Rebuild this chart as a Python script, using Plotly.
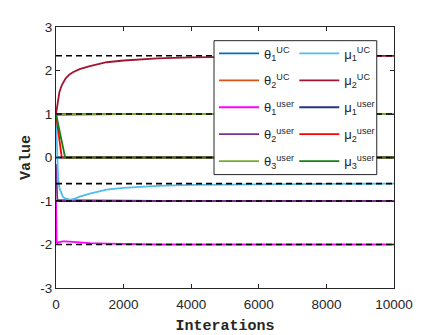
import plotly.graph_objects as go

iterations = [0, 20, 40, 60, 100, 170, 200, 270, 300, 400, 500, 700, 1000, 1500,
              2000, 2500, 3000, 4000, 5000, 6000, 7000, 8000, 9000, 10000]

theta1_uc = [0.0] * 24
theta2_uc = [1.0] * 24
theta1_user = [-1.0, -1.97, -1.96, -1.95, -1.94, -1.93, -1.93, -1.93, -1.93, -1.94, -1.94, -1.95,
               -1.97, -1.98, -1.99, -1.99, -2.0, -2.0, -2.0, -2.0, -2.0, -2.0, -2.0, -2.0]
theta2_user = [-0.15, -0.95, -0.97, -0.975, -0.98, -0.98, -0.98, -0.98, -0.98, -0.98, -0.98, -0.98,
               -0.98, -0.985, -0.99, -0.99, -0.995, -1.0, -1.0, -1.0, -1.0, -1.0, -1.0, -1.0]
theta3_user = [1.0, 0.975, 0.975, 0.975, 0.975, 0.975, 0.975, 0.976, 0.976, 0.977, 0.978, 0.98,
               0.985, 0.99, 0.995, 0.997, 1.0, 1.0, 1.0, 1.0, 1.0, 1.0, 1.0, 1.0]
mu1_uc = [1.0, 0.35, -0.15, -0.45, -0.7, -0.86, -0.9, -0.94, -0.95, -0.97, -0.96, -0.9,
          -0.83, -0.74, -0.7, -0.67, -0.65, -0.63, -0.62, -0.615, -0.61, -0.607, -0.604, -0.602]
mu2_uc = [1.0, 1.12, 1.24, 1.35, 1.5, 1.66, 1.71, 1.8, 1.83, 1.91, 1.96, 2.03,
          2.1, 2.19, 2.23, 2.26, 2.28, 2.3, 2.315, 2.325, 2.33, 2.333, 2.335, 2.337]
mu1_user = [-1.0] * 24
mu2_user = [1.0, 0.88, 0.76, 0.65, 0.41, 0.0, 0.0, 0.0, 0.0, 0.0, 0.0, 0.0,
            0.0, 0.0, 0.0, 0.0, 0.0, 0.0, 0.0, 0.0, 0.0, 0.0, 0.0, 0.0]
mu3_user = [1.0, 0.93, 0.85, 0.78, 0.63, 0.37, 0.26, 0.0, 0.0, 0.0, 0.0, 0.0,
            0.0, 0.0, 0.0, 0.0, 0.0, 0.0, 0.0, 0.0, 0.0, 0.0, 0.0, 0.0]

targets = [2.34, 1.0, 0.0, -0.6, -1.0, -2.0]

y_ticks = [-3, -2, -1, 0, 1, 2, 3]
y_ticklabels = ['-3', '-2', '-1', '0', '1', '2', '3']
x_ticks = [0, 2000, 4000, 6000, 8000, 10000]
x_ticklabels = ['0', '2000', '4000', '6000', '8000', '10000']

# (name, values, color, legend, rank) in drawing order
series = [
    ("θ<sub>1</sub><sup>UC</sup>", theta1_uc, "#0072BD", "legend", 1),
    ("θ<sub>2</sub><sup>UC</sup>", theta2_uc, "#D95319", "legend", 2),
    ("μ<sub>1</sub><sup>user</sup>", mu1_user, "#22338F", "legend2", 3),
    ("θ<sub>1</sub><sup>user</sup>", theta1_user, "#FF00FF", "legend", 3),
    ("θ<sub>2</sub><sup>user</sup>", theta2_user, "#7E2F8E", "legend", 4),
    ("θ<sub>3</sub><sup>user</sup>", theta3_user, "#77AC30", "legend", 5),
    ("μ<sub>1</sub><sup>UC</sup>", mu1_uc, "#4DBEEE", "legend2", 1),
    ("μ<sub>2</sub><sup>UC</sup>", mu2_uc, "#A2142F", "legend2", 2),
    ("μ<sub>2</sub><sup>user</sup>", mu2_user, "#FF0000", "legend2", 4),
    ("μ<sub>3</sub><sup>user</sup>", mu3_user, "#128012", "legend2", 5),
]

fig = go.Figure()
for name, vals, color, leg, rank in series:
    fig.add_trace(go.Scatter(
        x=iterations, y=vals, mode='lines', name=name, legend=leg, legendrank=rank,
        legendgroup=name, line=dict(color=color, width=1.8)))

dash_x, dash_y = [], []
for t in targets:
    dash_x += [iterations[0], iterations[-1], None]
    dash_y += [t, t, None]
fig.add_trace(go.Scatter(
    x=dash_x, y=dash_y, mode='lines', showlegend=False, hoverinfo='skip',
    line=dict(color='black', width=1.6, dash='6px,4px')))

# opaque legend box like matlab
fig.add_shape(type='rect', xref='paper', yref='paper', x0=0.4675, x1=0.949, y0=0.4345, y1=0.9476,
              fillcolor='white', line=dict(color='#262626', width=1), layer='above')

legend_style = dict(
    bgcolor='rgba(0,0,0,0)', borderwidth=0, itemwidth=40, tracegroupgap=7,
    font=dict(family='Liberation Sans, Arial', size=13, color='#262626'),
    xanchor='left', yanchor='top', itemclick=False)
axis_style = dict(
    showline=True, linecolor='#262626', linewidth=1, mirror='ticks', ticks='inside', ticklen=4,
    tickcolor='#262626', showgrid=False, zeroline=False,
    tickfont=dict(family='Liberation Sans, Arial', size=13.5, color='#262626'))

# page body adds 8px, margins compensate
fig.update_layout(
    width=436, height=335, margin=dict(l=48, r=50, t=17, b=51),
    plot_bgcolor='white', paper_bgcolor='white',
    legend=dict(x=0.4675, y=0.956, **legend_style),
    legend2=dict(x=0.705, y=0.956, **legend_style),
    xaxis=dict(range=[0, 10000], tickvals=x_ticks, ticktext=x_ticklabels, ticklabelstandoff=4,
               title=dict(text='<b>Interations</b>', standoff=8,
                          font=dict(family='Liberation Mono, Courier New', size=15, color='#262626')),
               **axis_style),
    yaxis=dict(range=[-3, 3], tickvals=y_ticks, ticktext=y_ticklabels,
               title=dict(text='<b>Value</b>', standoff=6,
                          font=dict(family='Liberation Mono, Courier New', size=15, color='#262626')),
               **axis_style),
)

fig.write_html("out.html")
